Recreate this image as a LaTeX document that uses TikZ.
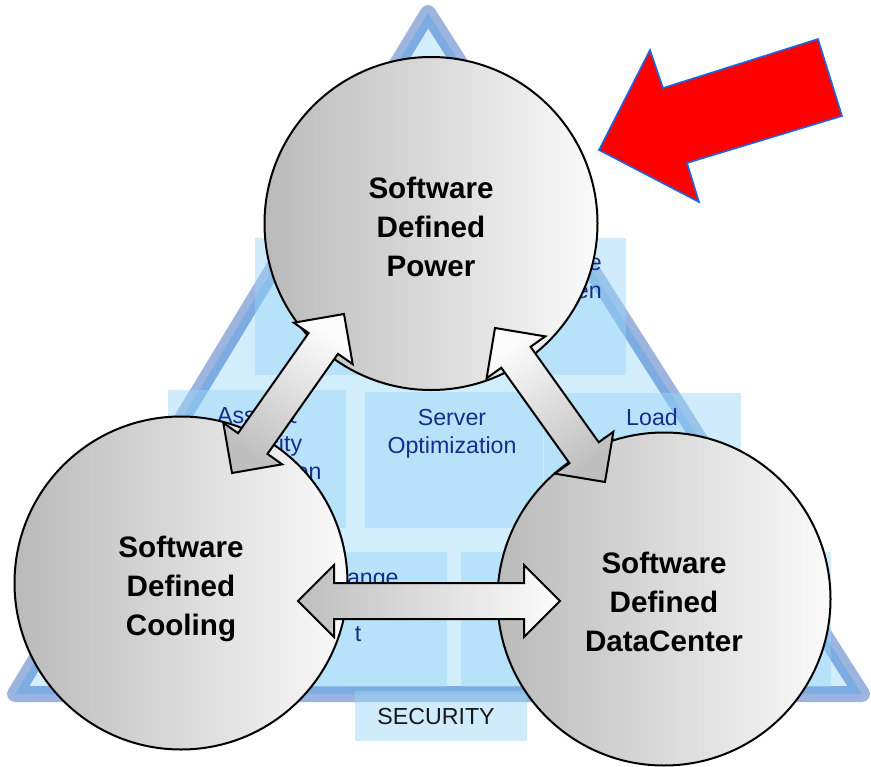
\documentclass[tikz,border=0pt]{standalone}
\usepackage{fontspec}
\setmainfont{Liberation Sans}
\usetikzlibrary{calc}

\definecolor{triFill}{RGB}{210,237,252}
\definecolor{bandOut}{RGB}{157,181,222}
\definecolor{bandIn}{RGB}{125,172,226}
\definecolor{boxBlue}{RGB}{154,214,249}
\definecolor{navyTxt}{RGB}{24,44,140}
\definecolor{circL}{RGB}{186,186,186}
\definecolor{circR}{RGB}{250,250,250}
\definecolor{arrGray}{RGB}{190,190,190}
\definecolor{arrWhite}{RGB}{252,252,252}
\definecolor{redArrow}{RGB}{255,0,0}
\definecolor{redEdge}{RGB}{30,100,230}
\definecolor{secTxt}{RGB}{25,25,25}

\tikzset{
  infobox/.style={fill=boxBlue, fill opacity=0.47, draw=none},
  boxtext/.style={text=navyTxt, font=\fontsize{17.4}{21}\selectfont, align=center, inner sep=0pt},
  sdcircle/.style={circle, draw=black, line width=1.5pt, minimum size=249.75pt, inner sep=0pt,
    left color=circL, right color=circR},
  sdtext/.style={align=center, inner sep=0pt, font=\bfseries\fontsize{22.2}{29.25}\selectfont},
  blockarrow/.style={draw=black, line width=1.5pt, line join=miter, top color=arrGray, bottom color=arrWhite},
  triband/.style={line width=12pt, line join=round},
}

\newcommand{\dblblock}[3]{%
  \coordinate (#1h) at ($(#1)!27pt!(#2)$);
  \coordinate (#2h) at ($(#2)!27pt!(#1)$);
  \shade[blockarrow, shading angle=#3]
    (#1)
    -- ($(#1h)!27pt!90:(#2)$)
    -- ($(#1h)!13.5pt!90:(#2)$)
    -- ($(#2h)!13.5pt!90:(#2)$)
    -- ($(#2h)!27pt!90:(#2)$)
    -- (#2)
    -- ($(#2h)!27pt!-90:(#2)$)
    -- ($(#2h)!13.5pt!-90:(#2)$)
    -- ($(#1h)!13.5pt!-90:(#2)$)
    -- ($(#1h)!27pt!-90:(#2)$)
    -- cycle;
}

\begin{document}
\begin{tikzpicture}[x=0.75pt,y=-0.75pt]
\useasboundingbox (0,0) rectangle (871,767);
\fill[white] (0,0) rectangle (871,767);

% triangle
\coordinate (tA) at (428,13);
\coordinate (tL) at (15,694);
\coordinate (tR) at (862,694);
\fill[triFill] (tA) -- (tL) -- (tR) -- cycle;
\draw[triband, bandOut] (tA) -- (tL) -- (tR) -- cycle;
\begin{scope}
  \clip (tA) -- (tL) -- (tR) -- cycle;
  \draw[triband, bandIn] (tA) -- (tL) -- (tR) -- cycle;
\end{scope}

% boxes
\path[infobox] (255,238) rectangle (626,375);
\path[infobox] (168,390) rectangle (346,528);
\path[infobox] (365,392) rectangle (543,528);
\path[infobox] (544,393) rectangle (741,528);
\path[infobox] (255,552) rectangle (447,687);
\path[infobox] (461,552) rectangle (831,687);
\path[infobox] (355,691) rectangle (527,741);

% box texts (anchor base = baseline of last line)
\node[boxtext, anchor=base east] (topA) at (602,270) {e};
\node[boxtext, anchor=base east] (topB) at (602,298) {en};
\node[boxtext, anchor=base] (asset) at (257,479) {Asset \&\\Capacity\\Optimization};
\node[boxtext, anchor=base] (server) at (452,453) {Server\\Optimization};
\node[boxtext, anchor=base] (load) at (652,453) {Load\\Balancing};
\node[boxtext, anchor=base] (change) at (358,641) {Change\\\mbox{}\\t};
\node[boxtext, anchor=base, text=secTxt] (sec) at (436,724) {SECURITY};

% circles
\node[sdcircle] (pow) at (431,223.5) {};
\node[sdcircle] (cool) at (181,583) {};
\node[sdcircle] (dc) at (664,599) {};
\node[sdtext] (powT) at (431,226.5) {Software\\Defined\\Power};
\node[sdtext] (coolT) at (181,589) {Software\\Defined\\Cooling};
\node[sdtext] (dcT) at (664,602) {Software\\Defined\\DataCenter};

% double block arrows between circles
\coordinate (pc1) at (344,314);
\coordinate (pc2) at (232,473);
\coordinate (pd1) at (495,328);
\coordinate (pd2) at (605,482);
\coordinate (cd1) at (298,601);
\coordinate (cd2) at (560,601);
\dblblock{pc1}{pc2}{145}
\dblblock{pd1}{pd2}{215}
\dblblock{cd1}{cd2}{90}

% red pointer arrow
\draw[redEdge, fill=redArrow, line width=1.2pt, line join=miter]
  (599,150) -- (650,50) -- (663,88) -- (818,39) -- (842,116) -- (687,163) -- (699,202) -- cycle;
\end{tikzpicture}
\end{document}
